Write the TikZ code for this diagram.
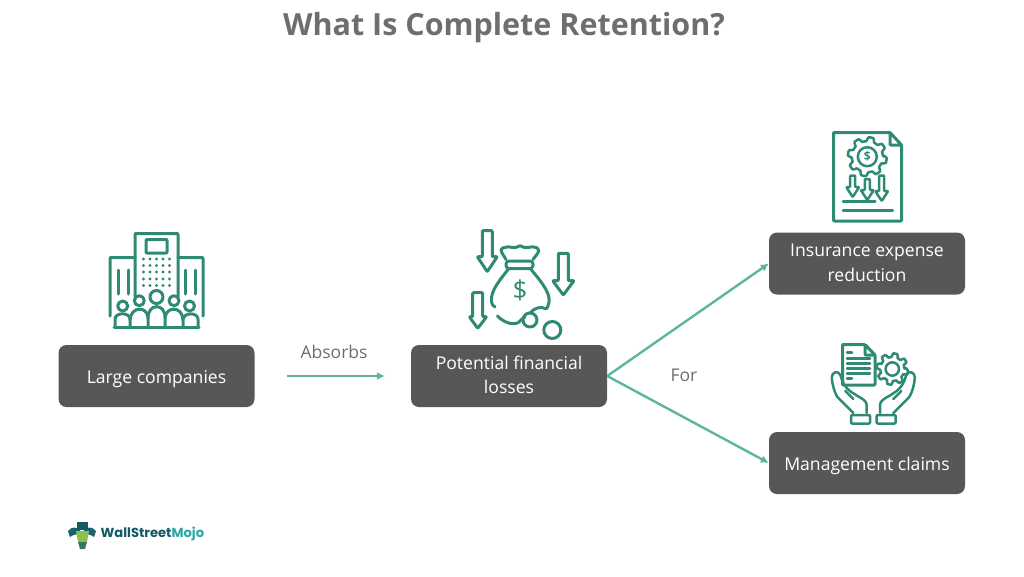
\documentclass[tikz,border=0pt]{standalone}
\usepackage{fontspec}
\setmainfont{Open Sans}
\newfontfamily\logofont{Poppins}
\usetikzlibrary{arrows.meta,positioning}
\definecolor{boxgrey}{HTML}{575856}
\definecolor{titlegrey}{HTML}{6E6E6C}
\definecolor{linkteal}{HTML}{5DB5A0}
\definecolor{icongreen}{HTML}{2F8A74}
\definecolor{logodark}{HTML}{125A64}
\definecolor{logoteal}{HTML}{2BA6A6}
\definecolor{logogreen}{HTML}{8CC152}
\newcommand{\gearpath}[4]{% x, y, outer, inner
  plot[domain=0:360,samples=145,variable=\a]
  ({#1+((#3+#4)/2+(#3-#4)/2*max(-1,min(1,2.5*sin(8*\a))))*cos(\a)},
   {#2+((#3+#4)/2+(#3-#4)/2*max(-1,min(1,2.5*sin(8*\a))))*sin(\a)}) -- cycle}
\tikzset{
  box/.style={draw=none,fill=boxgrey,rounded corners=8pt,minimum width=196pt,minimum height=62pt,
    text=white,font=\fontsize{17.6}{24.5}\selectfont,align=center,inner sep=0pt,text height=15pt,text depth=0pt},
  two lines/.style={text height=35.5pt,text depth=0pt},
  lnk/.style={draw=linkteal,line width=2.4pt,-{Latex[length=8pt,width=8pt]}},
  lbl/.style={text=titlegrey,font=\fontsize{17.5}{22}\selectfont,inner sep=0pt},
  icon/.style={draw=icongreen,line width=3pt,line cap=round,line join=round,rounded corners=0.8pt},
  thin icon/.style={icon,line width=2.5pt},
}
\begin{document}
\begin{tikzpicture}[x=1pt,y=-1pt,node distance=100pt,on grid]
   \useasboundingbox (0,0) rectangle (1024,576);
   \node[font=\fontsize{30.5}{36}\selectfont\bfseries,text=titlegrey,inner sep=0pt] (title) at (504,27.5) {What Is Complete Retention?};
   \node[box] (large) at (156.5,376) {Large companies};
   \node[box,two lines] (losses) [right=352.5pt of large] {Potential financial\\losses};
   \node[box,two lines] (insurance) [above right=112.5pt and 358pt of losses] {Insurance expense\\reduction};
   \node[box] (claims) [below=199.5pt of insurance] {Management claims};
   \node[lbl] (absorbs) at (334,352) {Absorbs};
   \node[lbl] (for) at (684,375) {For};
   \draw[lnk,shorten <=32pt,shorten >=26pt] (large) -- (losses);
   \draw[lnk] (losses.east) -- (insurance.west);
   \draw[lnk] (losses.east) -- (claims.west);
   % large companies
   \draw[icon] (135,297) -- (135,233.5) -- (178,233.5) -- (178,297);
   \draw[icon] (146,239.5) rectangle (167,253);
   \foreach \y in {259,265.5,272,279,285.5}
     \foreach \x in {143.5,150,156.5,163,169.5}
       \fill[icongreen] (\x,\y) circle (1.6pt);
   \draw[icon] (135,257.5) -- (110,257.5) -- (110,316);
   \draw[icon] (178,257.5) -- (203,257.5) -- (203,316);
   \draw[icon] (118,270) -- (118,294) (128,270) -- (128,294);
   \draw[icon] (185,270) -- (185,294) (195,270) -- (195,294);
   \foreach \x/\y/\r in {122.7/306/5,139.3/300.7/5,156.5/297/6.5,174/300.7/5,189.5/306/5}
     \draw[icon] (\x,\y) circle (\r pt);
   \draw[icon] (114,327) -- (199,327);
   \draw[icon] (115,327) -- (115,320) .. controls (115,312) and (130,312) .. (130,320) -- (130,327);
   \draw[icon] (130,320) .. controls (131,306) and (147,306) .. (148,318) -- (148,327);
   \draw[icon] (148,318) .. controls (148,303) and (165,303) .. (165,318) -- (165,327);
   \draw[icon] (165,318) .. controls (166,306) and (182,306) .. (183,320) -- (183,327);
   \draw[icon] (183,320) .. controls (183,312) and (198,312) .. (198,320) -- (198,327);
   % money bag
   \draw[icon] (482.3,230.7) -- (492.3,230.7) -- (492.3,256.7) -- (497.3,256.7) -- (487.3,271.7) -- (477.3,256.7) -- (482.3,256.7) -- cycle;
   \draw[icon] (558.3,253.3) -- (568.3,253.3) -- (568.3,280.7) -- (574,280.7) -- (563.3,295) -- (552.7,280.7) -- (558.3,280.7) -- cycle;
   \draw[icon] (472.7,292.7) -- (482.7,292.7) -- (482.7,316.7) -- (486.7,316.7) -- (477.7,328.3) -- (469.3,316.7) -- (472.7,316.7) -- cycle;
   \draw[icon] (506,259.5) .. controls (503,254) and (499,250) .. (503,248) .. controls (510,245) and (514,250) .. (520,245.5) .. controls (526,250) and (532,245) .. (537,248) .. controls (541,251) and (536,255) .. (533,259.5);
   \draw[icon,rounded corners=3pt] (506,261) rectangle (533,268.5);
   \draw[icon] (508,269.5) .. controls (500,280) and (491,290) .. (491.5,301) .. controls (491.5,304) and (493,306) .. (495,307);
   \draw[icon] (497.5,316) .. controls (503,322) and (512,325) .. (517,323) .. controls (520,322) and (522,318) .. (525,317);
   \draw[icon] (531,269.5) .. controls (540,280) and (550,292) .. (549,302) .. controls (548.5,306) and (547,308) .. (546,309) .. controls (541,306) and (534,308) .. (530,313);
   \draw[icon] (530,320) circle (7pt);
   \draw[icon] (552.3,330) circle (8.5pt);
   \node[text=icongreen,font=\fontsize{26}{26}\selectfont,inner sep=0pt] (bagsign) at (520,290) {\$};
   % report
   \draw[icon] (890,132.5) -- (833.5,132.5) -- (833.5,221) -- (901.5,221) -- (901.5,145) -- (890,132.5) -- (890,145) -- (901.5,145);
   \draw[thin icon] \gearpath{867.3}{156.7}{19.5}{15.5};
   \draw[thin icon] (867.3,156.7) circle (9.5pt);
   \node[text=icongreen,font=\fontsize{12}{12}\selectfont\bfseries,inner sep=0pt] (reportsign) at (867.3,156.7) {\$};
   \foreach \x/\t/\h in {852.7/175.5/187,867.3/179/190,881.7/175.5/191}
     \draw[thin icon] (\x-2.5,\t) -- (\x+2.5,\t) -- (\x+2.5,\h) -- (\x+6.5,\h) -- (\x,\h+10) -- (\x-6.5,\h) -- (\x-2.5,\h) -- cycle;
   \draw[icon] (843,201.7) -- (875,201.7);
   \draw[icon] (843,210) -- (892.5,210);
   % claims
   \draw[icon] (864.5,344.5) -- (842.5,344.5) -- (842.5,385) -- (875,385) -- (875,355) -- (865,344.5) -- (865,355) -- (875,355);
   \draw[thin icon] (847,352.5) -- (852,352.5) (847,358.5) -- (870,358.5) (847,363.5) -- (870,363.5) (847,368.5) -- (870,368.5) (847,373.5) -- (870,373.5) (847,378.5) -- (852,378.5);
   \draw[thin icon] \gearpath{892.3}{369}{15.7}{12};
   \draw[thin icon] (892.3,369) circle (6.7pt);
   \foreach \s in {1,-1} {
     \begin{scope}[shift={(873.3,0)},xscale=\s]
       \draw[thin icon] (-6.7,413) -- (-6.7,405) .. controls (-7,401) and (-12,398) .. (-15,396.5) -- (-22,392) .. controls (-28,388) and (-31,382) .. (-33,375);
       \draw[thin icon] (-20,413) -- (-36,397) .. controls (-39,392) and (-41,384) .. (-41.5,378) .. controls (-41.5,372) and (-35,370) .. (-33,375);
       \draw[thin icon] (-28,391) -- (-20,399);
       \draw[thin icon,rounded corners=1pt] (-22.3,415) rectangle (-3.3,423.5);
     \end{scope}
   }
   % logo
   \fill[logodark!85!logoteal] (68,531) .. controls (72,526) and (77,527) .. (80,530) -- (80,535) .. controls (75,533) and (72,536) .. (70,537) -- cycle;
   \fill[logodark!85!logoteal] (96,531) .. controls (92,526) and (87,527) .. (84,530) -- (84,535) .. controls (89,533) and (92,536) .. (94,537) -- cycle;
   \fill[logodark] (77,522) rectangle (88,529);
   \fill[logodark] (75,528.5) rectangle (90,530);
   \fill[logogreen] (76,531) -- (89,531) -- (87,542) -- (78,542) -- cycle;
   \fill[logodark!70!logogreen] (78,542) -- (87,542) -- (85,549) -- (80,549) -- cycle;
   \node[anchor=west,font=\logofont\fontsize{13.1}{15}\selectfont\bfseries,inner sep=0pt] (logotext) at (100.5,534) {\textcolor{logodark}{WallStreet}\textcolor{logoteal}{Mojo}};
\end{tikzpicture}
\end{document}
